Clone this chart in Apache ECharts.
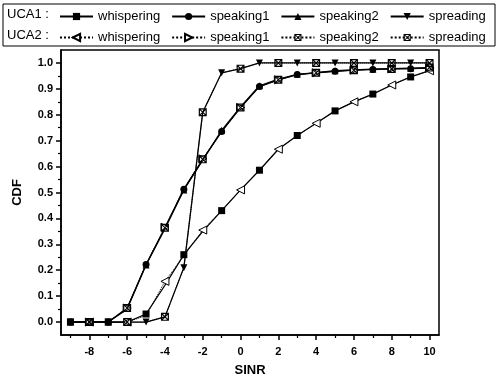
<!DOCTYPE html>
<html>
<head>
<meta charset="utf-8">
<script src="https://cdn.jsdelivr.net/npm/echarts@6/dist/echarts.min.js"></script>
<style>
html, body { margin: 0; padding: 0; background: #fff; }
#showChart { width: 496px; height: 382px; }
</style>
</head>
<body>
<div id="showChart"></div>
<script>
var sinr = [-9, -8, -7, -6, -5, -4, -3, -2, -1, 0, 1, 2, 3, 4, 5, 6, 7, 8, 9, 10];

var uca1Whispering = [0, 0, 0, 0, 0.031, 0.142, 0.26, 0.35, 0.43, 0.51, 0.586, 0.667, 0.72, 0.767, 0.815, 0.85, 0.88, 0.915, 0.946, 0.97];
var uca1Speaking1 = [0, 0, 0, 0.054, 0.222, 0.364, 0.513, 0.628, 0.735, 0.828, 0.909, 0.935, 0.955, 0.962, 0.968, 0.972, 0.975, 0.977, 0.978, 0.98];
var uca1Speaking2 = [0, 0, 0, 0.05, 0.22, 0.36, 0.51, 0.625, 0.74, 0.83, 0.912, 0.938, 0.956, 0.963, 0.97, 0.973, 0.976, 0.978, 0.98, 0.982];
var uca1Spreading = [0, 0, 0, 0, 0, 0.02, 0.21, 0.81, 0.962, 0.978, 1, 1, 1, 1, 1, 1, 1, 1, 1, 1];

var uca2Whispering = [0, 0, 0, 0, 0.025, 0.157, 0.255, 0.355, 0.43, 0.51, 0.586, 0.667, 0.72, 0.767, 0.815, 0.85, 0.88, 0.915, 0.946, 0.97];
var uca2Speaking1 = [0, 0, 0, 0.054, 0.222, 0.366, 0.513, 0.63, 0.735, 0.828, 0.909, 0.935, 0.955, 0.962, 0.968, 0.972, 0.975, 0.977, 0.978, 0.98];
var uca2Speaking2 = [0, 0, 0, 0.054, 0.222, 0.364, 0.513, 0.628, 0.735, 0.828, 0.909, 0.935, 0.955, 0.962, 0.968, 0.972, 0.975, 0.977, 0.978, 0.982];
var uca2Spreading = [0, 0, 0, 0, 0, 0.02, 0.21, 0.81, 0.962, 0.978, 1, 1, 1, 1, 1, 1, 1, 1, 1, 1];

var xMajorTicks = [-8, -6, -4, -2, 0, 2, 4, 6, 8, 10];
var xMinorTicks = [-9, -7, -5, -3, -1, 1, 3, 5, 7, 9];
var yMajorTicks = [0, 0.1, 0.2, 0.3, 0.4, 0.5, 0.6, 0.7, 0.8, 0.9, 1.0];
var yMinorTicks = [0.05, 0.15, 0.25, 0.35, 0.45, 0.55, 0.65, 0.75, 0.85, 0.95];

var font = 'Liberation Sans';
// crossed box marker
var crossBox = 'path://M0 0L10 0L10 10L0 10Z M1.5 1.5L1.5 8.5L8.5 8.5L8.5 1.5Z M0 1L1 0L10 9L9 10Z M9 0L10 1L1 10L0 9Z';

// UCA1 markers on odd SINR, UCA2 markers on even SINR
function makeData(vals, odd) {
    return sinr.map(function (x, i) {
        var isOdd = Math.abs(x) % 2 === 1;
        var item = {value: [x, vals[i]]};
        if (isOdd !== odd) item.symbol = 'none';
        return item;
    });
}

function uca1(name, vals, symbol, rotate) {
    return {
        name: 'UCA1 ' + name, type: 'line', xAxisIndex: 0, yAxisIndex: 0,
        data: makeData(vals, true), showAllSymbol: true,
        symbol: symbol, symbolSize: 7, symbolRotate: rotate || 0,
        lineStyle: {color: '#000', width: 1.3, type: 'solid'},
        itemStyle: {color: '#000'},
        emphasis: {disabled: true}, animation: false
    };
}

function uca2(name, vals, symbol, rotate, filled) {
    return {
        name: 'UCA2 ' + name, type: 'line', xAxisIndex: 0, yAxisIndex: 0,
        data: makeData(vals, false), showAllSymbol: true,
        symbol: symbol, symbolSize: 8, symbolRotate: rotate || 0,
        lineStyle: {color: '#000', width: 1, type: 'dotted'},
        itemStyle: filled ? {color: '#000'} : {color: '#fff', borderColor: '#000', borderWidth: 1},
        emphasis: {disabled: true}, animation: false
    };
}

var series = [
    uca2('whispering', uca2Whispering, 'triangle', 90),
    uca2('speaking1', uca2Speaking1, 'triangle', -90),
    uca2('speaking2', uca2Speaking2, crossBox, 0, true),
    uca2('spreading', uca2Spreading, crossBox, 0, true),
    uca1('whispering', uca1Whispering, 'rect'),
    uca1('speaking1', uca1Speaking1, 'circle'),
    uca1('speaking2', uca1Speaking2, 'triangle'),
    uca1('spreading', uca1Spreading, 'triangle', 180)
];

function legendRow(top, prefix) {
    return {
        top: top, left: 59, width: 436, itemGap: 11, itemWidth: 33, itemHeight: 9,
        selectedMode: false, padding: 0,
        data: ['whispering', 'speaking1', 'speaking2', 'spreading'].map(function (n) { return prefix + n; }),
        formatter: function (name) { return name.split(' ')[1]; },
        textStyle: {fontFamily: font, fontSize: 13, color: '#000'}
    };
}

var option1 = {
    backgroundColor: '#fff',
    textStyle: {fontFamily: font},
    legend: [legendRow(10, 'UCA1 '), legendRow(31, 'UCA2 ')],
    graphic: [
        {type: 'rect', shape: {x: 3, y: 4, width: 492, height: 42}, style: {fill: 'none', stroke: '#000', lineWidth: 1}},
        {type: 'text', left: 7, top: 8, style: {text: 'UCA1 :', font: '13px ' + font, fill: '#000'}},
        {type: 'text', left: 7, top: 29, style: {text: 'UCA2 :', font: '13px ' + font, fill: '#000'}}
    ],
    grid: {left: 61, right: 57, top: 50, bottom: 45, show: true, borderColor: '#000', borderWidth: 1.5, backgroundColor: '#fff'},
    xAxis: [
        {
            type: 'value', min: -9.5, max: 10.5, position: 'bottom',
            name: 'SINR', nameLocation: 'middle', nameGap: 29,
            nameTextStyle: {fontFamily: font, fontSize: 13, fontWeight: 'bold', color: '#000'},
            axisLine: {show: true, onZero: false, lineStyle: {color: '#000', width: 1.5}},
            axisTick: {show: true, length: 5, customValues: xMajorTicks, lineStyle: {color: '#000', width: 1.5}},
            axisLabel: {customValues: xMajorTicks, margin: 11, fontFamily: font, fontSize: 11, fontWeight: 'bold', color: '#000'},
            splitLine: {show: false}
        },
        {
            type: 'value', min: -9.5, max: 10.5, position: 'bottom', gridIndex: 0,
            axisLine: {show: false, onZero: false},
            axisTick: {show: true, length: 3, customValues: xMinorTicks, lineStyle: {color: '#000', width: 1.2}},
            axisLabel: {show: false},
            splitLine: {show: false}
        }
    ],
    yAxis: [
        {
            type: 'value', min: -0.05, max: 1.05, position: 'left',
            name: 'CDF', nameLocation: 'middle', nameGap: 37, nameRotate: 90,
            nameTextStyle: {fontFamily: font, fontSize: 13, fontWeight: 'bold', color: '#000'},
            axisLine: {show: true, onZero: false, lineStyle: {color: '#000', width: 1.5}},
            axisTick: {show: true, length: 5, customValues: yMajorTicks, lineStyle: {color: '#000', width: 1.5}},
            axisLabel: {
                customValues: yMajorTicks, margin: 8, fontFamily: font, fontSize: 11, fontWeight: 'bold', color: '#000',
                formatter: function (v) { return v.toFixed(1); }
            },
            splitLine: {show: false}
        },
        {
            type: 'value', min: -0.05, max: 1.05, position: 'left', offset: 0,
            axisLine: {show: false, onZero: false},
            axisTick: {show: true, length: 3, customValues: yMinorTicks, lineStyle: {color: '#000', width: 1.2}},
            axisLabel: {show: false},
            splitLine: {show: false}
        }
    ],
    series: series
};

var chartOutChar = echarts.init(document.getElementById('showChart'));
chartOutChar.setOption(option1);
</script>
</body>
</html>
